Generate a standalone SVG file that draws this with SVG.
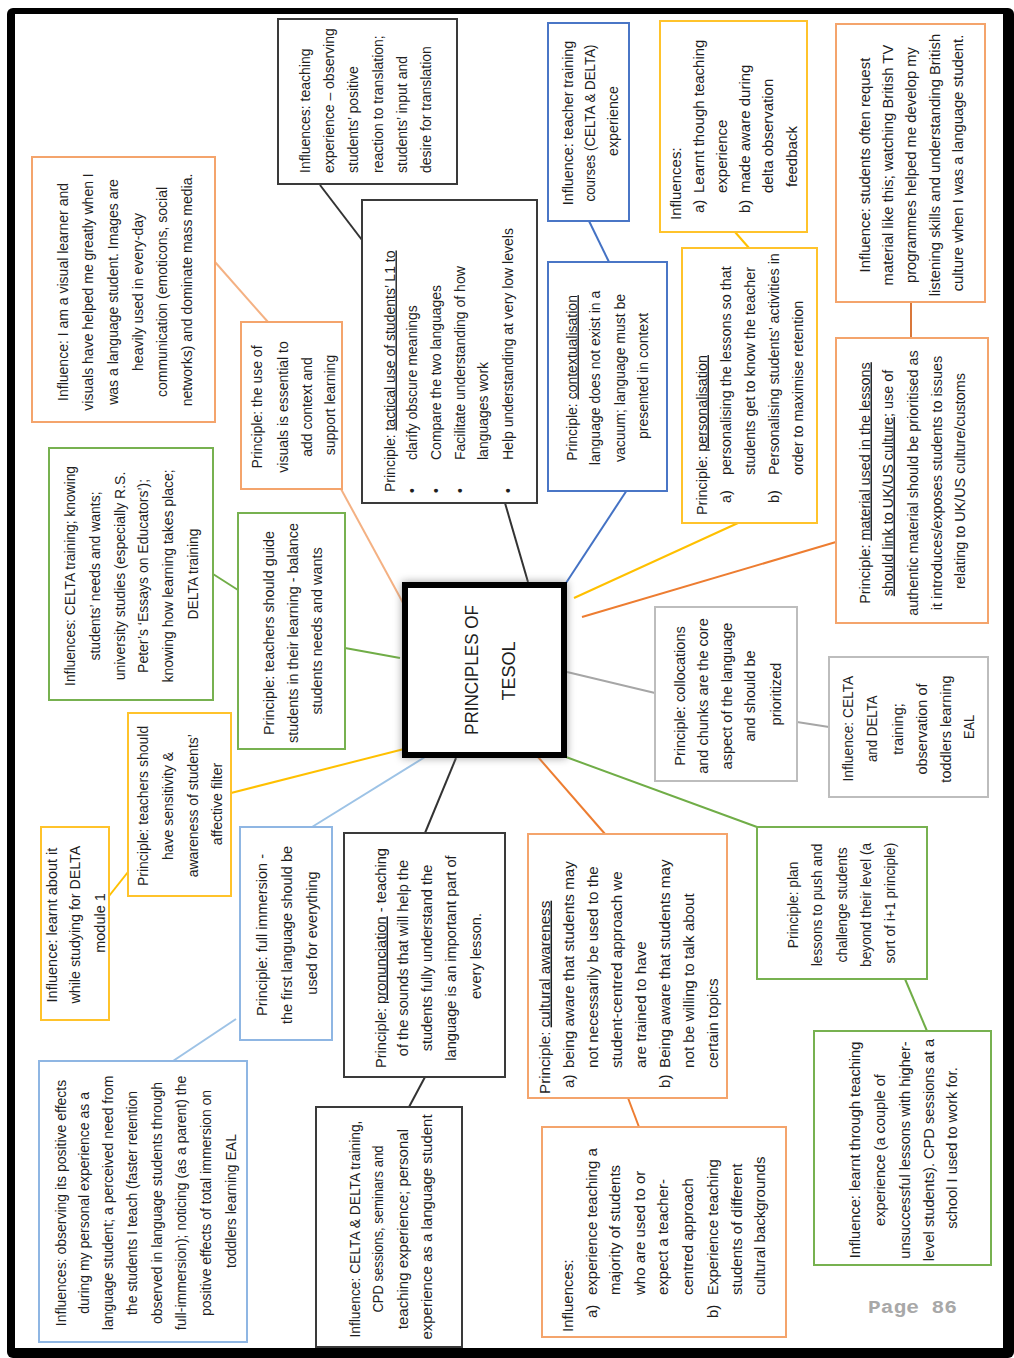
<svg xmlns="http://www.w3.org/2000/svg" width="1014" height="1358" viewBox="0 0 1014 1358">
<defs>
<style>
.t{font-family:'Liberation Sans',Arial,sans-serif;fill:#1e1e1e}
.c{text-anchor:middle}
.u{text-decoration:underline}
.bx{fill:#fff;stroke-width:2}
.k{stroke:#3a3a3a}
.o{stroke:#F4A46C}
.y{stroke:#FFC32B}
.b{stroke:#4A76C6}
.lb{stroke:#8FB6E3}
.g{stroke:#77B150}
.gr{stroke:#BDBDBD}
.ln{fill:none;stroke-width:2}
</style>
<filter id="soft" x="-20%" y="-20%" width="140%" height="140%"><feGaussianBlur stdDeviation="4"/></filter>
</defs>

<!-- page and frame -->
<rect x="0" y="0" width="1014" height="1358" fill="#fff"/>
<rect x="7" y="8" width="1007" height="1350" rx="6" fill="#000"/>
<rect x="15" y="14" width="988" height="1334" fill="#fff"/>

<!-- connectors -->
<g id="connectors">
<line class="ln" stroke="#333" x1="320" y1="185" x2="362" y2="240"/>
<line class="ln" stroke="#333" x1="505" y1="503" x2="528" y2="582"/>
<line class="ln" stroke="#4472C4" x1="589" y1="221" x2="609" y2="262"/>
<line class="ln" stroke="#4472C4" x1="627" y1="490" x2="566" y2="583"/>
<line class="ln" stroke="#FFC000" x1="735" y1="232" x2="749" y2="248"/>
<line class="ln" stroke="#FFC000" x1="738" y1="523" x2="574" y2="598"/>
<line class="ln" stroke="#D9773A" x1="911" y1="302" x2="911" y2="338"/>
<line class="ln" stroke="#ED7D31" x1="836" y1="542" x2="582" y2="617"/>
<line class="ln" stroke="#A6A6A6" x1="567" y1="672" x2="655" y2="693"/>
<line class="ln" stroke="#A6A6A6" x1="797" y1="722" x2="829" y2="727"/>
<line class="ln" stroke="#70AD47" x1="566" y1="757" x2="757" y2="827"/>
<line class="ln" stroke="#70AD47" x1="905" y1="979" x2="927" y2="1031"/>
<line class="ln" stroke="#ED7D31" x1="538" y1="757" x2="605" y2="834"/>
<line class="ln" stroke="#ED7D31" x1="628" y1="1098" x2="639" y2="1127"/>
<line class="ln" stroke="#333" x1="456" y1="758" x2="425" y2="833"/>
<line class="ln" stroke="#333" x1="425" y1="1077" x2="409" y2="1107"/>
<line class="ln" stroke="#9DC3E6" x1="425" y1="757" x2="312" y2="827"/>
<line class="ln" stroke="#9DC3E6" x1="236" y1="1019" x2="173" y2="1061"/>
<line class="ln" stroke="#FFC000" x1="408" y1="748" x2="231" y2="793"/>
<line class="ln" stroke="#FFC000" x1="128" y1="872" x2="109" y2="896"/>
<line class="ln" stroke="#70AD47" x1="400" y1="658" x2="345" y2="648"/>
<line class="ln" stroke="#70AD47" x1="213" y1="574" x2="238" y2="590"/>
<line class="ln" stroke="#F4B183" x1="408" y1="612" x2="341" y2="489"/>
<line class="ln" stroke="#F4B183" x1="215" y1="262" x2="268" y2="322"/>
</g>

<!-- central node -->
<g id="n-center">
<rect x="402" y="582" width="165" height="176" fill="#777" opacity="0.7" filter="url(#soft)"/>
<rect x="405" y="585" width="159" height="170" fill="#fff" stroke="#000" stroke-width="6"/>
<text class="t c" font-size="18" fill="#333" transform="translate(478,670) rotate(-90)" x="0" y="0" textLength="130" lengthAdjust="spacingAndGlyphs">PRINCIPLES OF</text>
<text class="t c" font-size="18" fill="#333" transform="translate(515,671) rotate(-90)" x="0" y="0">TESOL</text>
</g>

<!-- translation: influence -->
<g id="n-translation-influence">
<rect class="bx k" x="278" y="19" width="179" height="165"/>
<text class="t" font-size="14" transform="translate(278,184) rotate(-90)">
<tspan x="11" y="31.5">Influences: teaching</tspan>
<tspan x="11" y="55.5">experience – observing</tspan>
<tspan x="11" y="79.5">students’ positive</tspan>
<tspan x="11" y="104.5">reaction to translation;</tspan>
<tspan x="11" y="128.5">students’ input and</tspan>
<tspan x="11" y="152.5">desire for translation</tspan>
</text>
</g>

<!-- translation: principle -->
<g id="n-translation">
<rect class="bx k" x="362" y="200" width="175" height="303"/>
<text class="t" font-size="14" transform="translate(362,503) rotate(-90)">
<tspan x="11" y="32.5">Principle: </tspan><tspan class="u">tactical use of students’ L1 to</tspan>
<tspan x="10" y="54.5">•</tspan><tspan x="43" y="54.5">clarify obscure meanings</tspan>
<tspan x="10" y="78.5">•</tspan><tspan x="43" y="78.5">Compare the two languages</tspan>
<tspan x="10" y="102.5">•</tspan><tspan x="43" y="102.5">Facilitate understanding of how</tspan>
<tspan x="43" y="125.5">languages work</tspan>
<tspan x="10" y="150.5">•</tspan><tspan x="43" y="150.5">Help understanding at very low levels</tspan>
</text>
</g>

<!-- context: influence -->
<g id="n-context-influence">
<rect class="bx b" x="548" y="23" width="81" height="198"/>
<text class="t c" font-size="14.3" transform="translate(548,221) rotate(-90)">
<tspan x="100" y="24.5">Influence: teacher training</tspan>
<tspan x="100" y="46.5" textLength="157" lengthAdjust="spacingAndGlyphs">courses (CELTA &amp; DELTA)</tspan>
<tspan x="100" y="69.5">experience</tspan>
</text>
</g>

<!-- context: principle -->
<g id="n-context">
<rect class="bx b" x="548" y="262" width="119" height="229"/>
<text class="t c" font-size="14" transform="translate(548,491) rotate(-90)">
<tspan x="115" y="28.5">Principle: </tspan><tspan class="u">contextualisation</tspan>
<tspan x="115" y="51.5">language does not exist in a</tspan>
<tspan x="115" y="76.5">vacuum; language must be</tspan>
<tspan x="115" y="99.5">presented in context</tspan>
</text>
</g>

<!-- personalisation: influences -->
<g id="n-personal-influence">
<rect class="bx y" x="660" y="21" width="147" height="211"/>
<text class="t" font-size="15" transform="translate(660,232) rotate(-90)">
<tspan x="12" y="20.5">Influences:</tspan>
<tspan x="19" y="43.5">a)</tspan><tspan x="39" y="43.5">Learnt though teaching</tspan>
<tspan x="39" y="66.5">experience</tspan>
<tspan x="19" y="89.5">b)</tspan><tspan x="39" y="89.5">made aware during</tspan>
<tspan x="39" y="112.5">delta observation</tspan>
<tspan x="45" y="136.5">feedback</tspan>
</text>
</g>

<!-- personalisation: principle -->
<g id="n-personal">
<rect class="bx y" x="682" y="248" width="135" height="275"/>
<text class="t" font-size="14.4" transform="translate(682,523) rotate(-90)">
<tspan x="8" y="24.5">Principle: </tspan><tspan class="u">personalisation</tspan>
<tspan x="20" y="48.5">a)</tspan><tspan x="48" y="48.5">personalising the lessons so that</tspan>
<tspan x="48" y="72.5">students get to know the teacher</tspan>
<tspan x="20" y="96.5">b)</tspan><tspan x="48" y="96.5">Personalising students’ activities in</tspan>
<tspan x="48" y="120.5">order to maximise retention</tspan>
</text>
</g>

<!-- culture material: influence -->
<g id="n-culture-influence">
<rect class="bx o" x="836" y="24" width="149" height="278"/>
<text class="t c" font-size="14.8" transform="translate(836,302) rotate(-90)">
<tspan x="139" y="33.5">Influence: students often request</tspan>
<tspan x="139" y="56.5">material like this; watching British TV</tspan>
<tspan x="139" y="79.5">programmes helped me develop my</tspan>
<tspan x="139" y="103.5">listening skills and understanding British</tspan>
<tspan x="139" y="126.5">culture when I was a language student.</tspan>
</text>
</g>

<!-- culture material: principle -->
<g id="n-culture">
<rect class="bx o" x="836" y="338" width="152" height="285"/>
<text class="t c" font-size="14.4" transform="translate(836,623) rotate(-90)">
<tspan x="142" y="33.5">Principle: </tspan><tspan class="u">material used in the lessons</tspan>
<tspan x="142" y="56.5" class="u">should link to UK/US culture;</tspan><tspan> use of</tspan>
<tspan x="142" y="81.5">authentic material should be prioritised as</tspan>
<tspan x="142" y="105.5">it introduces/exposes students to issues</tspan>
<tspan x="142" y="128.5">relating to UK/US culture/customs</tspan>
</text>
</g>

<!-- collocations: principle -->
<g id="n-chunks">
<rect class="bx gr" x="655" y="607" width="142" height="174"/>
<text class="t c" font-size="14.5" transform="translate(655,781) rotate(-90)">
<tspan x="87" y="29.5">Principle: collocations</tspan>
<tspan x="87" y="52.5">and chunks are the core</tspan>
<tspan x="87" y="76.5">aspect of the language</tspan>
<tspan x="87" y="99.5">and should be</tspan>
<tspan x="87" y="125.5">prioritized</tspan>
</text>
</g>

<!-- collocations: influence -->
<g id="n-chunks-influence">
<rect class="bx gr" x="829" y="657" width="159" height="140"/>
<text class="t c" font-size="14.5" transform="translate(829,797) rotate(-90)">
<tspan x="70" y="23.5" textLength="105" lengthAdjust="spacingAndGlyphs">Influence: CELTA</tspan>
<tspan x="70" y="47.5" textLength="66" lengthAdjust="spacingAndGlyphs">and DELTA</tspan>
<tspan x="70" y="73.5">training;</tspan>
<tspan x="70" y="97.5">observation of</tspan>
<tspan x="70" y="121.5">toddlers learning</tspan>
<tspan x="70" y="144.5" textLength="24" lengthAdjust="spacingAndGlyphs">EAL</tspan>
</text>
</g>

<!-- challenge: principle -->
<g id="n-challenge">
<rect class="bx g" x="757" y="827" width="170" height="152"/>
<text class="t c" font-size="13.8" transform="translate(757,979) rotate(-90)">
<tspan x="76" y="40.5">Principle: plan</tspan>
<tspan x="76" y="64.5">lessons  to push and</tspan>
<tspan x="76" y="89.5">challenge students</tspan>
<tspan x="76" y="113.5">beyond their level (a</tspan>
<tspan x="76" y="137.5">sort of i+1 principle)</tspan>
</text>
</g>

<!-- challenge: influence -->
<g id="n-challenge-influence">
<rect class="bx g" x="814" y="1031" width="177" height="234"/>
<text class="t c" font-size="14.6" transform="translate(814,1265) rotate(-90)">
<tspan x="117" y="45.5">Influence: learnt through teaching</tspan>
<tspan x="117" y="70.5">experience (a couple of</tspan>
<tspan x="117" y="95.5">unsuccessful lessons with higher-</tspan>
<tspan x="117" y="119.5">level students). CPD sessions at a</tspan>
<tspan x="117" y="142.5">school I used to work for.</tspan>
</text>
</g>

<!-- cultural awareness: principle -->
<g id="n-awareness">
<rect class="bx o" x="528" y="834" width="199" height="264"/>
<text class="t" font-size="15.2" transform="translate(528,1098) rotate(-90)">
<tspan x="4" y="21.5">Principle: </tspan><tspan class="u">cultural awareness</tspan>
<tspan x="10" y="45.6">a)</tspan><tspan x="30" y="45.6">being aware that students may</tspan>
<tspan x="30" y="69.7">not necessarily be used to the</tspan>
<tspan x="30" y="93.8">student-centred approach we</tspan>
<tspan x="30" y="117.9">are trained to have</tspan>
<tspan x="10" y="142">b)</tspan><tspan x="30" y="142">Being aware that students may</tspan>
<tspan x="30" y="166.1">not be willing to talk about</tspan>
<tspan x="30" y="190.2">certain topics</tspan>
</text>
</g>

<!-- cultural awareness: influences -->
<g id="n-awareness-influence">
<rect class="bx o" x="542" y="1127" width="244" height="210"/>
<text class="t" font-size="15" transform="translate(542,1337) rotate(-90)">
<tspan x="5" y="30.5">Influences:</tspan>
<tspan x="19" y="54.5">a)</tspan><tspan x="42" y="54.5">experience teaching a</tspan>
<tspan x="42" y="77.5">majority of students</tspan>
<tspan x="42" y="102.5">who are used to or</tspan>
<tspan x="42" y="125.5">expect a teacher-</tspan>
<tspan x="42" y="150.5">centred approach</tspan>
<tspan x="19" y="175.5">b)</tspan><tspan x="42" y="175.5">Experience teaching</tspan>
<tspan x="42" y="199.5">students of different</tspan>
<tspan x="42" y="222.5">cultural backgrounds</tspan>
</text>
</g>

<!-- pronunciation: principle -->
<g id="n-pronunciation">
<rect class="bx k" x="344" y="833" width="161" height="244"/>
<text class="t c" font-size="14.6" transform="translate(344,1077) rotate(-90)">
<tspan x="121" y="41.5">Principle: </tspan><tspan class="u">pronunciation</tspan><tspan> - teaching</tspan>
<tspan x="121" y="63.5">of the sounds that will help the</tspan>
<tspan x="121" y="87.5">students fully understand the</tspan>
<tspan x="121" y="111.5">language is an important part of</tspan>
<tspan x="121" y="136.5">every lesson.</tspan>
</text>
</g>

<!-- pronunciation: influence -->
<g id="n-pronunciation-influence">
<rect class="bx k" x="316" y="1107" width="146" height="240"/>
<text class="t c" font-size="15" transform="translate(316,1347) rotate(-90)">
<tspan x="120" y="43.5" textLength="217" lengthAdjust="spacingAndGlyphs">Influence: CELTA &amp; DELTA training,</tspan>
<tspan x="120" y="66.5" textLength="167" lengthAdjust="spacingAndGlyphs">CPD sessions, seminars and</tspan>
<tspan x="120" y="91.5">teaching experience; personal</tspan>
<tspan x="120" y="115.5">experience as a language student</tspan>
</text>
</g>

<!-- immersion: principle -->
<g id="n-immersion">
<rect class="bx lb" x="240" y="827" width="92" height="213"/>
<text class="t c" font-size="14.5" transform="translate(240,1040) rotate(-90)">
<tspan x="107" y="26.5">Principle: full immersion -</tspan>
<tspan x="107" y="51.5">the first language should be</tspan>
<tspan x="107" y="76.5">used for everything</tspan>
</text>
</g>

<!-- immersion: influences -->
<g id="n-immersion-influence">
<rect class="bx lb" x="39" y="1061" width="208" height="281"/>
<text class="t c" font-size="14" transform="translate(39,1342) rotate(-90)">
<tspan x="141" y="26.5">Influences: observing its positive effects</tspan>
<tspan x="141" y="49.5">during my personal experience as a</tspan>
<tspan x="141" y="73.5">language student; a perceived need from</tspan>
<tspan x="141" y="97.5">the students I teach (faster retention</tspan>
<tspan x="141" y="122.5">observed in language students through</tspan>
<tspan x="141" y="146.5">full-immersion); noticing (as a parent) the</tspan>
<tspan x="141" y="171.5">positive effects of total immersion on</tspan>
<tspan x="141" y="196.5">toddlers learning EAL</tspan>
</text>
</g>

<!-- affective filter: principle -->
<g id="n-affective">
<rect class="bx y" x="128" y="713" width="103" height="183"/>
<text class="t c" font-size="14" transform="translate(128,896) rotate(-90)">
<tspan x="92" y="19.5">Principle: teachers should</tspan>
<tspan x="92" y="44.5">have sensitivity &amp;</tspan>
<tspan x="92" y="69.5">awareness of students’</tspan>
<tspan x="92" y="93.5">affective filter</tspan>
</text>
</g>

<!-- affective filter: influence -->
<g id="n-affective-influence">
<rect class="bx y" x="41" y="827" width="68" height="193"/>
<text class="t c" font-size="14.5" transform="translate(41,1020) rotate(-90)">
<tspan x="97" y="15.5">Influence: learnt about it</tspan>
<tspan x="97" y="38.5" textLength="157" lengthAdjust="spacingAndGlyphs">while studying for DELTA</tspan>
<tspan x="97" y="63.5">module 1</tspan>
</text>
</g>

<!-- guidance: principle -->
<g id="n-guide">
<rect class="bx g" x="238" y="513" width="107" height="236"/>
<text class="t c" font-size="14.4" transform="translate(238,749) rotate(-90)">
<tspan x="118" y="35.5">Principle: teachers should guide</tspan>
<tspan x="118" y="59.5">students in their learning - balance</tspan>
<tspan x="118" y="83.5">students needs and wants</tspan>
</text>
</g>

<!-- guidance: influences -->
<g id="n-guide-influence">
<rect class="bx g" x="49" y="448" width="164" height="252"/>
<text class="t c" font-size="14" transform="translate(49,700) rotate(-90)">
<tspan x="126" y="25.5" textLength="220" lengthAdjust="spacingAndGlyphs">Influences: CELTA training; knowing</tspan>
<tspan x="126" y="50.5">students’ needs and wants;</tspan>
<tspan x="126" y="75.5">university studies (especially R.S.</tspan>
<tspan x="126" y="98.5">Peter’s ‘Essays on Educators’);</tspan>
<tspan x="126" y="123.5">knowing how learning takes place;</tspan>
<tspan x="126" y="148.5" textLength="91" lengthAdjust="spacingAndGlyphs">DELTA training</tspan>
</text>
</g>

<!-- visuals: principle -->
<g id="n-visuals">
<rect class="bx o" x="241" y="322" width="101" height="167"/>
<text class="t c" font-size="14" transform="translate(241,489) rotate(-90)">
<tspan x="84" y="20.5">Principle: the use of</tspan>
<tspan x="84" y="46.5">visuals is essential to</tspan>
<tspan x="84" y="70.5">add context and</tspan>
<tspan x="84" y="93.5">support learning</tspan>
</text>
</g>

<!-- visuals: influence -->
<g id="n-visuals-influence">
<rect class="bx o" x="32" y="157" width="183" height="265"/>
<text class="t c" font-size="14" transform="translate(32,422) rotate(-90)">
<tspan x="132" y="35.5">Influence: I am a visual learner and</tspan>
<tspan x="132" y="60.5">visuals have helped me greatly when I</tspan>
<tspan x="132" y="85.5">was a language student. Images are</tspan>
<tspan x="132" y="110.5">heavily used in every-day</tspan>
<tspan x="132" y="134.5">communication (emoticons, social</tspan>
<tspan x="132" y="159.5">networks) and dominate mass media.</tspan>
</text>
</g>

<!-- page number -->
<text x="868" y="1313" font-family="'Liberation Mono','Courier New',monospace" font-size="19" font-weight="bold" fill="#a8a8a8" textLength="89" lengthAdjust="spacingAndGlyphs">Page 86</text>
</svg>
